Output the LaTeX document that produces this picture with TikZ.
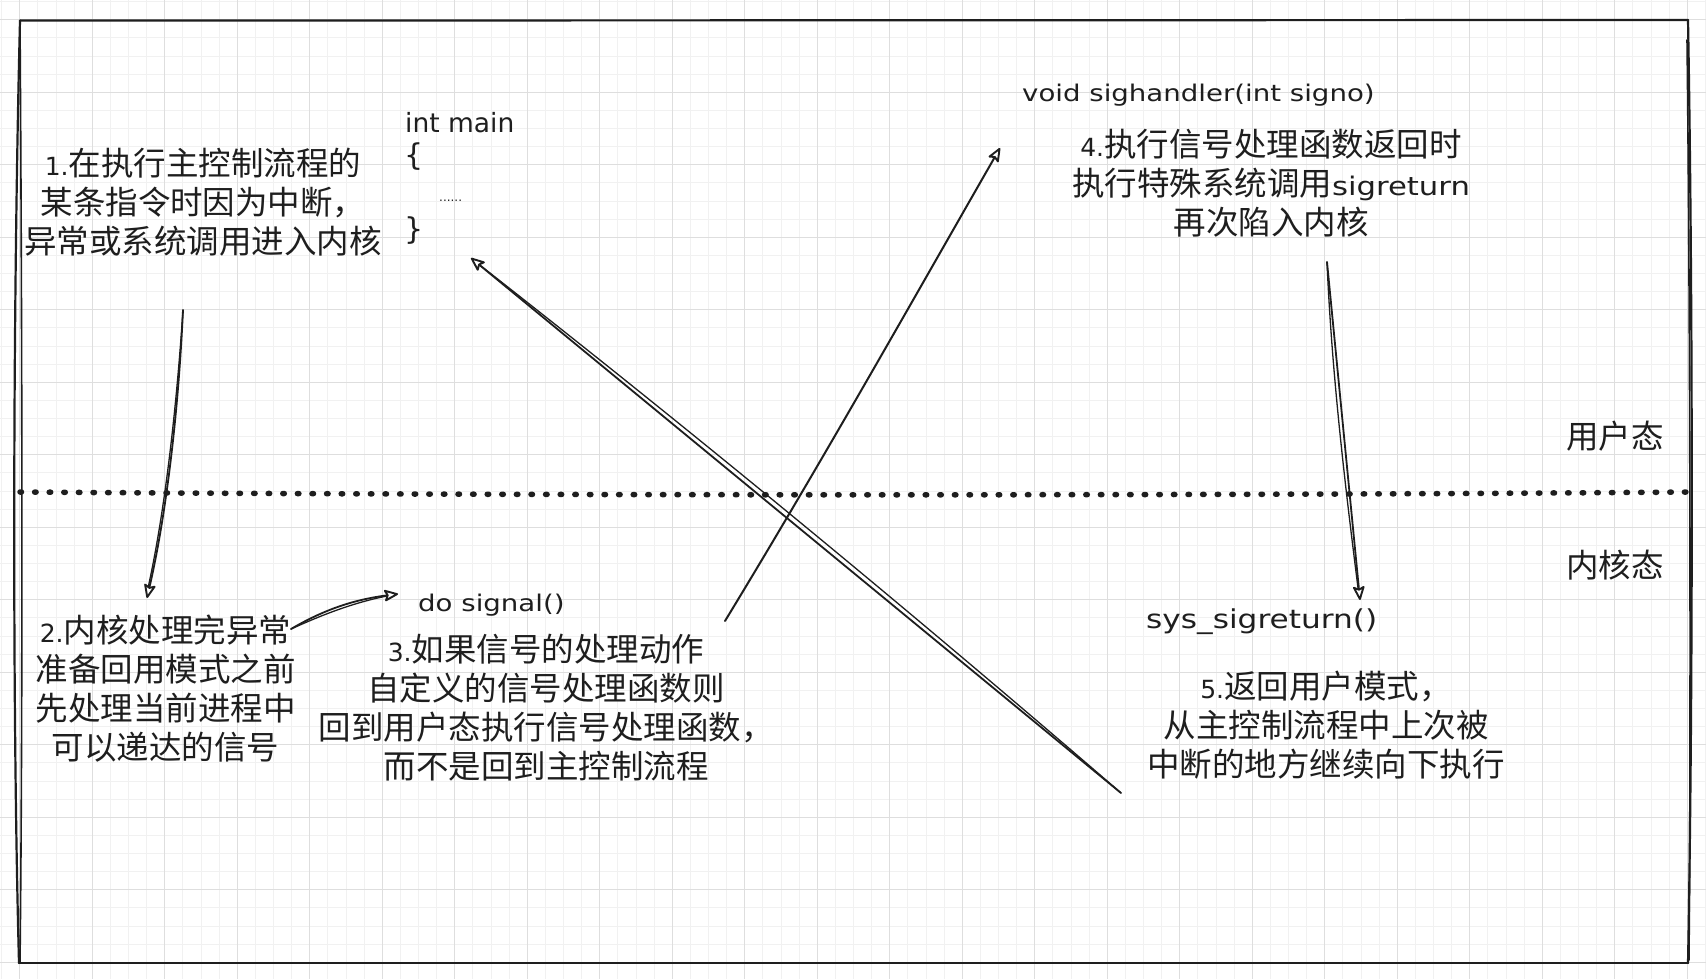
\documentclass[tikz,border=0pt]{standalone}
\usepackage{fontspec}
\setmainfont{DejaVu Sans}
\newfontfamily\cjk{Noto Sans CJK SC}
\newfontfamily\latf{DejaVu Sans}
\newfontfamily\codef[FakeStretch=1.2]{DejaVu Sans}
\usetikzlibrary{arrows.meta,calc}
\definecolor{ink}{RGB}{30,30,30}
\definecolor{gminor}{RGB}{241,241,241}
\definecolor{gmajor}{RGB}{222,222,222}
\newcommand\pnum[1]{{\latf\fontsize{25}{39}\selectfont #1}}
\tikzset{
  cn/.style={font=\cjk\fontsize{32.5}{39}\selectfont, align=center, inner sep=0pt, text=ink},
  code/.style={font=\codef\fontsize{23}{28}\selectfont, inner sep=0pt, text=ink, anchor=base west},
  stroke/.style={draw=ink, line width=1.8pt, line cap=round, line join=round},
  tipped/.style={-{Stealth[open, fill=white, length=16pt, width=13pt, inset=3pt, line width=1.9pt, round]}},
  border/.style={draw=ink, line width=2.2pt, line cap=round, line join=round},
  gline/.style={draw=gminor, line width=1pt},
  Gline/.style={draw=gmajor, line width=1.1pt},
  dotline/.style={draw=ink, line width=5.5pt, line cap=round, dash pattern=on 1.5pt off 13.1pt},
}
\begin{document}
\begin{tikzpicture}[x=1pt,y=-1pt]
\useasboundingbox (0,0) rectangle (1706,979);
\fill[white] (0,0) rectangle (1706,979);
% grid
\foreach \i in {-1,...,93}{\draw[gline] ({19.8+18.125*\i},0) -- ({19.8+18.125*\i},979);}
\foreach \i in {-1,...,53}{\draw[gline] (0,{19.8+18.125*\i}) -- (1706,{19.8+18.125*\i});}
\foreach \i in {0,...,23}{\draw[Gline] ({19.8+72.5*\i},0) -- ({19.8+72.5*\i},979);}
\foreach \i in {0,...,13}{\draw[Gline] (0,{19.8+72.5*\i}) -- (1706,{19.8+72.5*\i});}
% frame
\draw[border] (20,20.6) -- (1688,20);
\draw[border] (1688,20) .. controls (1693,300) and (1693,700) .. (1688,963);
\draw[border, line width=1.6pt] (1687,40) .. controls (1690,300) and (1691,700) .. (1689,960);
\draw[border] (1688,963) -- (19,963);
\draw[border] (20,20.6) .. controls (13,300) and (12,700) .. (19,963);
\draw[border, line width=1.6pt] (20,20.6) .. controls (22,300) and (23,700) .. (20,963);
% user / kernel separator
\draw[dotline] (20,492) .. controls (500,495.5) and (1200,496) .. (1690,492);
% texts
\node[cn] (t1) at (203,202) {\pnum{1.}在执行主控制流程的\\某条指令时因为中断，\\异常或系统调用进入内核};
\node[cn] (t2) at (165.5,689) {\pnum{2.}内核处理完异常\\准备回用模式之前\\先处理当前进程中\\可以递达的信号};
\node[cn] (t3) at (546,708) {\pnum{3.}如果信号的处理动作\\自定义的信号处理函数则\\回到用户态执行信号处理函数，\\而不是回到主控制流程};
\node[cn] (t4) at (1271,183.5) {\pnum{4.}执行信号处理函数返回时\\执行特殊系统调用{\codef\fontsize{25.6}{39}\selectfont sigreturn}\\再次陷入内核};
\node[cn] (t5) at (1326,725.5) {\pnum{5.}返回用户模式，\\从主控制流程中上次被\\中断的地方继续向下执行};
\node[cn] (user) at (1615,436) {用户态};
\node[cn] (kern) at (1615,565) {内核态};
% code
\node[code, font=\latf\fontsize{26.5}{30}\selectfont] (main) at (405,133) {int main};
\node[code, font=\latf\fontsize{30}{32}\selectfont] (lb) at (404,166) {\{};
\node[code, font=\latf\fontsize{12}{14}\selectfont] (dots) at (439,201) {......};
\node[code, font=\latf\fontsize{30}{32}\selectfont] (rb) at (404,239) {\}};
\node[code] (dosig) at (418,611) {do signal()};
\node[code] (handler) at (1022,102) {void sighandler(int signo)};
\node[code, font=\codef\fontsize{26}{30}\selectfont] (sysret) at (1146,628) {sys\_sigreturn()};
% connector ends
\coordinate (a1s) at (183,310);
\coordinate (a1e) at (147,598);
\coordinate (a2s) at (291,629);
\coordinate (a2e) at (398,594);
\coordinate (a3s) at (725,621);
\coordinate (a3e) at (1000,148);
\coordinate (a4s) at (1327,262);
\coordinate (a4e) at (1360,600);
\coordinate (a5s) at (1121,793);
\coordinate (a5e) at (471,258);
% arrows (second, lighter stroke first so the tipped one lies on top)
\draw[stroke, line width=1.3pt] (a1s) .. controls (175,430) and (162,525) .. ($(a1e)+(1,-10)$);
\draw[stroke, tipped] (a1s) .. controls (178,420) and (165,520) .. (a1e);
\draw[stroke, line width=1.3pt] (a2s) .. controls (322,615) and (352,603) .. ($(a2e)+(-11,2)$);
\draw[stroke, tipped] (a2s) .. controls (320,612) and (350,600) .. (a2e);
\draw[stroke, tipped, line width=2pt] (a3s) .. controls (820,465) and (910,305) .. (a3e);
\draw[stroke, line width=1.3pt] (a4s) .. controls (1332,380) and (1347,500) .. ($(a4e)+(-2,-12)$);
\draw[stroke, tipped] (a4s) -- (a4e);
\draw[stroke, line width=1.3pt] (a5s) .. controls (908.6,609.5) and (691.9,431.1) .. ($(a5e)+(10,8)$);
\draw[stroke, tipped] (a5s) -- (a5e);
\end{tikzpicture}
\end{document}
